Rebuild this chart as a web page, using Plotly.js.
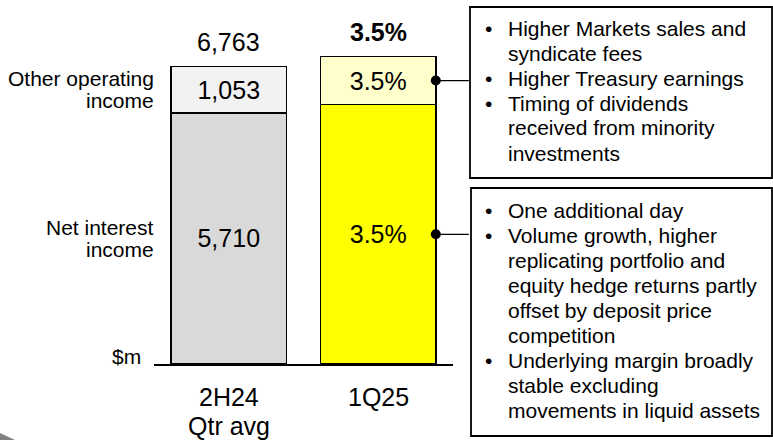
<!DOCTYPE html>
<html>
<head>
<meta charset="utf-8">
<script src="https://cdn.plot.ly/plotly-3.0.1.min.js"></script>
<style>html,body{margin:0;padding:0;background:#fff;}#chart{width:773px;height:440px;}</style>
</head>
<body>
<div id="chart"></div>
<script>
// ---- data ----
const categories = ['2H24<br>Qtr avg', '1Q25'];
const netInterestIncome = [5710, 5895];
const otherOperatingIncome = [1053, 1095];
const niiLabels = ['5,710', '3.5%'];
const otherLabels = ['1,053', '3.5%'];
const totalLabels = ['6,763', '<b>3.5%</b>'];
const niiName = ['Net interest', 'income'];
const otherName = ['Other operating', 'income'];
const unitLabel = '$m';
const otherBullets = [
  ['Higher Markets sales and', 'syndicate fees'],
  ['Higher Treasury earnings'],
  ['Timing of dividends', 'received from minority', 'investments']
];
const niiBullets = [
  ['One additional day'],
  ['Volume growth, higher', 'replicating portfolio and', 'equity hedge returns partly', 'offset by deposit price', 'competition'],
  ['Underlying margin broadly', 'stable excluding', 'movements in liquid assets']
];

// ---- layout constants ----
const W = 773, H = 440;
const ML = 154, MR = 320, MT = 34, MB = 76;
const PW = W - ML - MR, PH = H - MT - MB;
const YMAX = 7500;
const BARW = 0.77;
const FONT = 'Liberation Sans, Arial, sans-serif';
const LINE = 25;
const px = x => (x - ML) / PW;          // pixel -> paper x
const py = y => (H - MB - y) / PH;      // pixel -> paper y

const totals = netInterestIncome.map((v, i) => v + otherOperatingIncome[i]);
const xs = categories.map((c, i) => i);

const traces = [
  {
    type: 'bar', x: xs, y: netInterestIncome, width: BARW,
    marker: {color: ['#d9d9d9', '#ffff00'], line: {color: '#000', width: 1.5}},
    text: niiLabels, textposition: 'inside', insidetextanchor: 'middle', textangle: 0,
    constraintext: 'none', textfont: {size: 25, color: '#000', family: FONT},
    hoverinfo: 'skip'
  },
  {
    type: 'bar', x: xs, y: otherOperatingIncome, width: BARW,
    marker: {color: ['#f2f2f2', '#ffffcc'], line: {color: '#000', width: 1.5}},
    text: otherLabels, textposition: 'inside', insidetextanchor: 'middle', textangle: 0,
    constraintext: 'none', textfont: {size: 25, color: '#000', family: FONT},
    hoverinfo: 'skip'
  },
  {
    type: 'scatter', mode: 'markers', cliponaxis: false,
    x: [1 + BARW / 2, 1 + BARW / 2],
    y: [netInterestIncome[1] + otherOperatingIncome[1] / 2, netInterestIncome[1] / 2],
    marker: {color: '#000', size: 10}, hoverinfo: 'skip'
  }
];

const annotations = [];
// category labels (one annotation per line for tight spacing)
categories.forEach((c, i) => c.split('<br>').forEach((l, k) => annotations.push({
  x: i, y: py(397 + k * 29), xref: 'x', yref: 'paper', text: l, showarrow: false,
  yanchor: 'middle', font: {size: 25, color: '#000', family: FONT}
})));
// totals
totals.forEach((t, i) => annotations.push({
  x: i, y: t, xref: 'x', yref: 'y', text: totalLabels[i], showarrow: false,
  yanchor: 'middle', yshift: 24, font: {size: 25, color: '#000', family: FONT}
}));
// segment names (left)
const sideLabel = (lines, yv) => lines.forEach((l, k) => annotations.push({
  x: 0, y: yv, xref: 'paper', yref: 'y', text: l, showarrow: false,
  xanchor: 'right', yanchor: 'middle', xshift: 2, yshift: (lines.length - 1) * 11 - k * 22,
  font: {size: 21, color: '#000', family: FONT}
}));
sideLabel(otherName, netInterestIncome[0] + otherOperatingIncome[0] / 2);
sideLabel(niiName, netInterestIncome[0] / 2);
annotations.push({
  x: 0, y: 0, xref: 'paper', yref: 'y', text: unitLabel, showarrow: false,
  xanchor: 'right', yanchor: 'middle', xshift: -11, yshift: 8,
  font: {size: 21, color: '#000', family: FONT}
});
// connectors
annotations.push({
  x: 1 + BARW / 2, y: netInterestIncome[1] + otherOperatingIncome[1] / 2, xref: 'x', yref: 'y',
  text: ' ', showarrow: true, arrowhead: 0, arrowwidth: 1.2, arrowcolor: '#000', ax: 36, ay: 0
});
annotations.push({
  x: 1 + BARW / 2, y: netInterestIncome[1] / 2, xref: 'x', yref: 'y',
  text: ' ', showarrow: true, arrowhead: 0, arrowwidth: 1.2, arrowcolor: '#000', ax: 36, ay: 0
});
// bullet boxes
const boxText = (groups, y0) => {
  let y = y0;
  groups.forEach(g => {
    annotations.push({x: px(488), y: py(y), xref: 'paper', yref: 'paper', text: '•', showarrow: false,
      xanchor: 'center', yanchor: 'middle', font: {size: 21, color: '#000', family: FONT}});
    g.forEach(line => {
      annotations.push({x: px(506), y: py(y), xref: 'paper', yref: 'paper', text: line, showarrow: false,
        xanchor: 'left', yanchor: 'middle', font: {size: 21, color: '#000', family: FONT}});
      y += LINE;
    });
  });
};
boxText(otherBullets, 28);
boxText(niiBullets, 210);

const shapes = [
  {type: 'rect', xref: 'paper', yref: 'paper', x0: px(470), x1: px(772), y0: py(7), y1: py(178),
   line: {color: '#000', width: 1.8}, fillcolor: 'rgba(0,0,0,0)'},
  {type: 'rect', xref: 'paper', yref: 'paper', x0: px(471), x1: px(772), y0: py(188), y1: py(436),
   line: {color: '#000', width: 1.8}, fillcolor: 'rgba(0,0,0,0)'},
  {type: 'path', xref: 'paper', yref: 'paper',
   path: `M${px(0)},${py(433)} L${px(15)},${py(440)} L${px(0)},${py(440)} Z`,
   fillcolor: '#808080', line: {width: 0}}
];

const layout = {
  width: W, height: H, barmode: 'stack', showlegend: false,
  margin: {l: ML, r: MR, t: MT, b: MB, pad: 0},
  paper_bgcolor: '#fff', plot_bgcolor: '#fff',
  font: {family: FONT, color: '#000'},
  xaxis: {range: [-0.5, 1.5], tickvals: xs, showticklabels: false, showgrid: false, zeroline: false,
          showline: true, linecolor: '#000', linewidth: 1.5, ticks: '', fixedrange: true},
  yaxis: {range: [0, YMAX], visible: false, fixedrange: true},
  annotations: annotations, shapes: shapes
};

Plotly.newPlot('chart', traces, layout, {displayModeBar: false, staticPlot: true});
</script>
</body>
</html>
